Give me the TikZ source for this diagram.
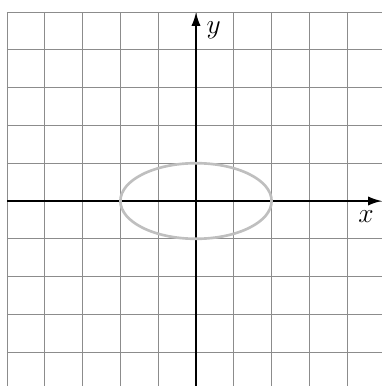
\documentclass[tikz,border=0pt]{standalone}
\usetikzlibrary{arrows.meta}
\begin{document}
\begin{tikzpicture}[
  gridline/.style={draw=gray!90, line width=0.6pt},
  axis/.style={draw=black, line width=1.5pt, -{Latex[length=10.5pt,width=7pt]}},
  curve/.style={draw=black!25, line width=2pt},
  lab/.style={font=\fontsize{20}{24}\selectfont}
]
\useasboundingbox (-5.185,-4.894) rectangle (4.92,5.317);
\draw[gridline] (-5,-4.9) grid (4.92,5);
\coordinate (xs) at (-5,0);
\coordinate (xe) at (4.92,0);
\coordinate (ys) at (0,-4.9);
\coordinate (ye) at (0,5);
\draw[axis] (xs) -- (xe);
\draw[axis] (ys) -- (ye);
\draw[curve] (0,0) ellipse [x radius=2, y radius=1];
\node[lab] (xl) at (4.5,-0.42) {$x$};
\node[lab] (yl) at (0.47,4.53) {$y$};
\end{tikzpicture}
\end{document}
